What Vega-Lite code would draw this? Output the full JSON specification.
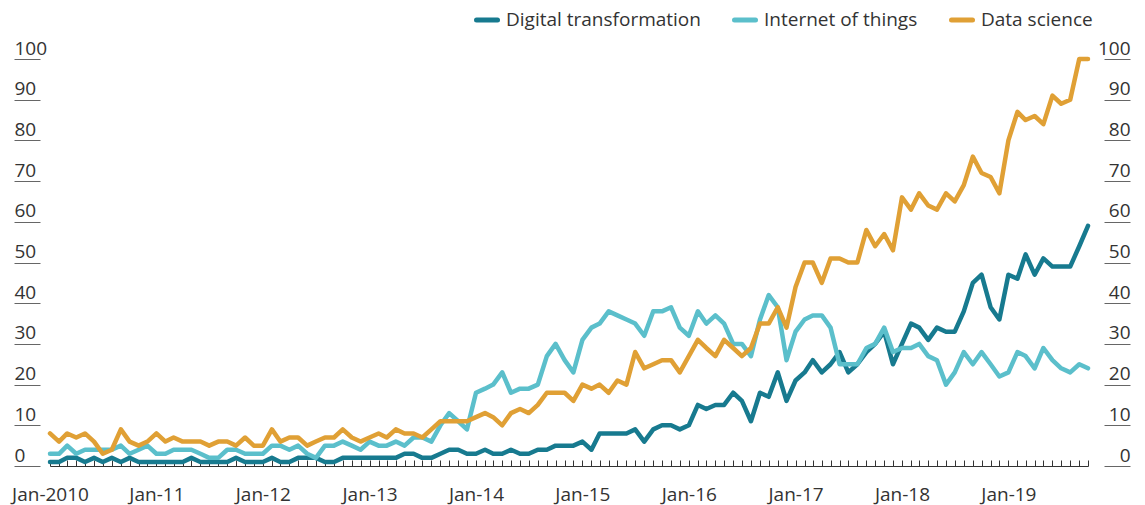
{
  "$schema": "https://vega.github.io/schema/vega-lite/v6.json",
  "width": 1064,
  "height": 407,
  "autosize": {"type": "none"},
  "padding": {"left": 40, "top": 59, "right": 41, "bottom": 39},
  "background": "white",
  "config": {"view": {"stroke": null}, "font": "Open Sans"},
  "datasets": {
    "trends": [
      {"d":"2010-01","Digital transformation":1,"Internet of things":3,"Data science":8},
      {"d":"2010-02","Digital transformation":1,"Internet of things":3,"Data science":6},
      {"d":"2010-03","Digital transformation":2,"Internet of things":5,"Data science":8},
      {"d":"2010-04","Digital transformation":2,"Internet of things":3,"Data science":7},
      {"d":"2010-05","Digital transformation":1,"Internet of things":4,"Data science":8},
      {"d":"2010-06","Digital transformation":2,"Internet of things":4,"Data science":6},
      {"d":"2010-07","Digital transformation":1,"Internet of things":4,"Data science":3},
      {"d":"2010-08","Digital transformation":2,"Internet of things":4,"Data science":4},
      {"d":"2010-09","Digital transformation":1,"Internet of things":5,"Data science":9},
      {"d":"2010-10","Digital transformation":2,"Internet of things":3,"Data science":6},
      {"d":"2010-11","Digital transformation":1,"Internet of things":4,"Data science":5},
      {"d":"2010-12","Digital transformation":1,"Internet of things":5,"Data science":6},
      {"d":"2011-01","Digital transformation":1,"Internet of things":3,"Data science":8},
      {"d":"2011-02","Digital transformation":1,"Internet of things":3,"Data science":6},
      {"d":"2011-03","Digital transformation":1,"Internet of things":4,"Data science":7},
      {"d":"2011-04","Digital transformation":1,"Internet of things":4,"Data science":6},
      {"d":"2011-05","Digital transformation":2,"Internet of things":4,"Data science":6},
      {"d":"2011-06","Digital transformation":1,"Internet of things":3,"Data science":6},
      {"d":"2011-07","Digital transformation":1,"Internet of things":2,"Data science":5},
      {"d":"2011-08","Digital transformation":1,"Internet of things":2,"Data science":6},
      {"d":"2011-09","Digital transformation":1,"Internet of things":4,"Data science":6},
      {"d":"2011-10","Digital transformation":2,"Internet of things":4,"Data science":5},
      {"d":"2011-11","Digital transformation":1,"Internet of things":3,"Data science":7},
      {"d":"2011-12","Digital transformation":1,"Internet of things":3,"Data science":5},
      {"d":"2012-01","Digital transformation":1,"Internet of things":3,"Data science":5},
      {"d":"2012-02","Digital transformation":2,"Internet of things":5,"Data science":9},
      {"d":"2012-03","Digital transformation":1,"Internet of things":5,"Data science":6},
      {"d":"2012-04","Digital transformation":1,"Internet of things":4,"Data science":7},
      {"d":"2012-05","Digital transformation":2,"Internet of things":5,"Data science":7},
      {"d":"2012-06","Digital transformation":2,"Internet of things":3,"Data science":5},
      {"d":"2012-07","Digital transformation":2,"Internet of things":2,"Data science":6},
      {"d":"2012-08","Digital transformation":1,"Internet of things":5,"Data science":7},
      {"d":"2012-09","Digital transformation":1,"Internet of things":5,"Data science":7},
      {"d":"2012-10","Digital transformation":2,"Internet of things":6,"Data science":9},
      {"d":"2012-11","Digital transformation":2,"Internet of things":5,"Data science":7},
      {"d":"2012-12","Digital transformation":2,"Internet of things":4,"Data science":6},
      {"d":"2013-01","Digital transformation":2,"Internet of things":6,"Data science":7},
      {"d":"2013-02","Digital transformation":2,"Internet of things":5,"Data science":8},
      {"d":"2013-03","Digital transformation":2,"Internet of things":5,"Data science":7},
      {"d":"2013-04","Digital transformation":2,"Internet of things":6,"Data science":9},
      {"d":"2013-05","Digital transformation":3,"Internet of things":5,"Data science":8},
      {"d":"2013-06","Digital transformation":3,"Internet of things":7,"Data science":8},
      {"d":"2013-07","Digital transformation":2,"Internet of things":7,"Data science":7},
      {"d":"2013-08","Digital transformation":2,"Internet of things":6,"Data science":9},
      {"d":"2013-09","Digital transformation":3,"Internet of things":10,"Data science":11},
      {"d":"2013-10","Digital transformation":4,"Internet of things":13,"Data science":11},
      {"d":"2013-11","Digital transformation":4,"Internet of things":11,"Data science":11},
      {"d":"2013-12","Digital transformation":3,"Internet of things":9,"Data science":11},
      {"d":"2014-01","Digital transformation":3,"Internet of things":18,"Data science":12},
      {"d":"2014-02","Digital transformation":4,"Internet of things":19,"Data science":13},
      {"d":"2014-03","Digital transformation":3,"Internet of things":20,"Data science":12},
      {"d":"2014-04","Digital transformation":3,"Internet of things":23,"Data science":10},
      {"d":"2014-05","Digital transformation":4,"Internet of things":18,"Data science":13},
      {"d":"2014-06","Digital transformation":3,"Internet of things":19,"Data science":14},
      {"d":"2014-07","Digital transformation":3,"Internet of things":19,"Data science":13},
      {"d":"2014-08","Digital transformation":4,"Internet of things":20,"Data science":15},
      {"d":"2014-09","Digital transformation":4,"Internet of things":27,"Data science":18},
      {"d":"2014-10","Digital transformation":5,"Internet of things":30,"Data science":18},
      {"d":"2014-11","Digital transformation":5,"Internet of things":26,"Data science":18},
      {"d":"2014-12","Digital transformation":5,"Internet of things":23,"Data science":16},
      {"d":"2015-01","Digital transformation":6,"Internet of things":31,"Data science":20},
      {"d":"2015-02","Digital transformation":4,"Internet of things":34,"Data science":19},
      {"d":"2015-03","Digital transformation":8,"Internet of things":35,"Data science":20},
      {"d":"2015-04","Digital transformation":8,"Internet of things":38,"Data science":18},
      {"d":"2015-05","Digital transformation":8,"Internet of things":37,"Data science":21},
      {"d":"2015-06","Digital transformation":8,"Internet of things":36,"Data science":20},
      {"d":"2015-07","Digital transformation":9,"Internet of things":35,"Data science":28},
      {"d":"2015-08","Digital transformation":6,"Internet of things":32,"Data science":24},
      {"d":"2015-09","Digital transformation":9,"Internet of things":38,"Data science":25},
      {"d":"2015-10","Digital transformation":10,"Internet of things":38,"Data science":26},
      {"d":"2015-11","Digital transformation":10,"Internet of things":39,"Data science":26},
      {"d":"2015-12","Digital transformation":9,"Internet of things":34,"Data science":23},
      {"d":"2016-01","Digital transformation":10,"Internet of things":32,"Data science":27},
      {"d":"2016-02","Digital transformation":15,"Internet of things":38,"Data science":31},
      {"d":"2016-03","Digital transformation":14,"Internet of things":35,"Data science":29},
      {"d":"2016-04","Digital transformation":15,"Internet of things":37,"Data science":27},
      {"d":"2016-05","Digital transformation":15,"Internet of things":35,"Data science":31},
      {"d":"2016-06","Digital transformation":18,"Internet of things":30,"Data science":29},
      {"d":"2016-07","Digital transformation":16,"Internet of things":30,"Data science":27},
      {"d":"2016-08","Digital transformation":11,"Internet of things":27,"Data science":29},
      {"d":"2016-09","Digital transformation":18,"Internet of things":36,"Data science":35},
      {"d":"2016-10","Digital transformation":17,"Internet of things":42,"Data science":35},
      {"d":"2016-11","Digital transformation":23,"Internet of things":39,"Data science":39},
      {"d":"2016-12","Digital transformation":16,"Internet of things":26,"Data science":34},
      {"d":"2017-01","Digital transformation":21,"Internet of things":33,"Data science":44},
      {"d":"2017-02","Digital transformation":23,"Internet of things":36,"Data science":50},
      {"d":"2017-03","Digital transformation":26,"Internet of things":37,"Data science":50},
      {"d":"2017-04","Digital transformation":23,"Internet of things":37,"Data science":45},
      {"d":"2017-05","Digital transformation":25,"Internet of things":34,"Data science":51},
      {"d":"2017-06","Digital transformation":28,"Internet of things":25,"Data science":51},
      {"d":"2017-07","Digital transformation":23,"Internet of things":25,"Data science":50},
      {"d":"2017-08","Digital transformation":25,"Internet of things":25,"Data science":50},
      {"d":"2017-09","Digital transformation":28,"Internet of things":29,"Data science":58},
      {"d":"2017-10","Digital transformation":30,"Internet of things":30,"Data science":54},
      {"d":"2017-11","Digital transformation":33,"Internet of things":34,"Data science":57},
      {"d":"2017-12","Digital transformation":25,"Internet of things":28,"Data science":53},
      {"d":"2018-01","Digital transformation":30,"Internet of things":29,"Data science":66},
      {"d":"2018-02","Digital transformation":35,"Internet of things":29,"Data science":63},
      {"d":"2018-03","Digital transformation":34,"Internet of things":30,"Data science":67},
      {"d":"2018-04","Digital transformation":31,"Internet of things":27,"Data science":64},
      {"d":"2018-05","Digital transformation":34,"Internet of things":26,"Data science":63},
      {"d":"2018-06","Digital transformation":33,"Internet of things":20,"Data science":67},
      {"d":"2018-07","Digital transformation":33,"Internet of things":23,"Data science":65},
      {"d":"2018-08","Digital transformation":38,"Internet of things":28,"Data science":69},
      {"d":"2018-09","Digital transformation":45,"Internet of things":25,"Data science":76},
      {"d":"2018-10","Digital transformation":47,"Internet of things":28,"Data science":72},
      {"d":"2018-11","Digital transformation":39,"Internet of things":25,"Data science":71},
      {"d":"2018-12","Digital transformation":36,"Internet of things":22,"Data science":67},
      {"d":"2019-01","Digital transformation":47,"Internet of things":23,"Data science":80},
      {"d":"2019-02","Digital transformation":46,"Internet of things":28,"Data science":87},
      {"d":"2019-03","Digital transformation":52,"Internet of things":27,"Data science":85},
      {"d":"2019-04","Digital transformation":47,"Internet of things":24,"Data science":86},
      {"d":"2019-05","Digital transformation":51,"Internet of things":29,"Data science":84},
      {"d":"2019-06","Digital transformation":49,"Internet of things":26,"Data science":91},
      {"d":"2019-07","Digital transformation":49,"Internet of things":24,"Data science":89},
      {"d":"2019-08","Digital transformation":49,"Internet of things":23,"Data science":90},
      {"d":"2019-09","Digital transformation":54,"Internet of things":25,"Data science":100},
      {"d":"2019-10","Digital transformation":59,"Internet of things":24,"Data science":100}
    ]
  },
  "layer": [
    {
      "data": {"name": "trends"},
      "transform": [
        {"fold": ["Digital transformation", "Internet of things", "Data science"], "as": ["series", "value"]}
      ],
      "mark": {"type": "line", "strokeWidth": 4.5, "strokeCap": "round", "strokeJoin": "round"},
      "encoding": {
        "x": {
          "field": "d",
          "type": "temporal",
          "scale": {
            "type": "utc",
            "domain": [
              {"year": 2010, "month": 1, "date": 1, "utc": true},
              {"year": 2019, "month": 10, "date": 1, "utc": true}
            ],
            "range": [10, 1048]
          },
          "axis": {
            "title": null,
            "grid": false,
            "tickCount": {"interval": "month", "step": 1},
            "tickSize": -6,
            "tickColor": "#333333",
            "tickWidth": 1,
            "domainColor": "#333333",
            "domainWidth": 1,
            "labelExpr": "utcmonth(datum.value) == 0 ? (utcyear(datum.value) == 2010 ? 'Jan-2010' : 'Jan-' + utcFormat(datum.value, '%y')) : ''",
            "labelOverlap": false,
            "labelFlush": false,
            "labelBound": false,
            "labelFont": "Open Sans",
            "labelFontSize": 19,
            "labelColor": "#333333",
            "labelPadding": 25
          }
        },
        "y": {
          "field": "value",
          "type": "quantitative",
          "scale": {"domain": [0, 100]},
          "axis": {
            "title": null,
            "orient": "left",
            "values": [0, 10, 20, 30, 40, 50, 60, 70, 80, 90, 100],
            "domain": false,
            "grid": false,
            "tickSize": 26,
            "tickColor": "#666666",
            "labelAlign": "left",
            "labelPadding": 0,
            "labelBaseline": "alphabetic",
            "labelOffset": -5,
            "labelFont": "Open Sans",
            "labelFontSize": 19,
            "labelColor": "#333333"
          }
        },
        "color": {
          "field": "series",
          "type": "nominal",
          "scale": {
            "domain": ["Digital transformation", "Internet of things", "Data science"],
            "range": ["#177a8f", "#5bbfcb", "#e0a035"]
          },
          "legend": {
            "title": null,
            "orient": "none",
            "direction": "horizontal",
            "legendX": 434,
            "legendY": -52,
            "symbolType": "stroke",
            "symbolSize": 441,
            "symbolStrokeWidth": 5,
            "labelFont": "Open Sans",
            "labelFontSize": 19,
            "labelColor": "#333333",
            "labelOffset": 6,
            "labelLimit": 400,
            "columnPadding": 23,
            "encode": {"symbols": {"update": {"strokeCap": {"value": "round"}}}}
          }
        }
      }
    },
    {
      "data": {"values": [{"k": 0}]},
      "mark": {"type": "rule", "opacity": 0},
      "encoding": {
        "y": {
          "field": "k",
          "type": "quantitative",
          "scale": {"domain": [0, 100]},
          "axis": {
            "title": null,
            "orient": "right",
            "values": [0, 10, 20, 30, 40, 50, 60, 70, 80, 90, 100],
            "domain": false,
            "grid": false,
            "tickSize": 26,
            "tickColor": "#666666",
            "labelAlign": "right",
            "labelPadding": 0,
            "labelBaseline": "alphabetic",
            "labelOffset": -5,
            "labelFont": "Open Sans",
            "labelFontSize": 19,
            "labelColor": "#333333"
          }
        }
      }
    }
  ],
  "resolve": {"scale": {"y": "independent"}}
}
